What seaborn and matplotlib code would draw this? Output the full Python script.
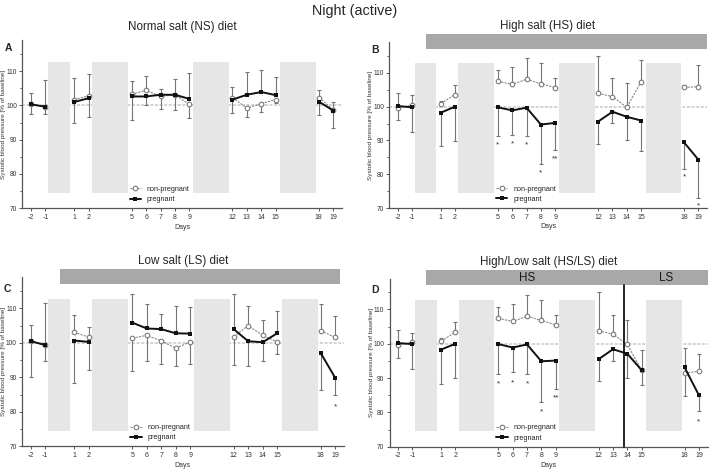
import numpy as np
import pandas as pd
import matplotlib
matplotlib.use("Agg")
import matplotlib.pyplot as plt
from matplotlib.ticker import MultipleLocator
import seaborn as sns

sns.set_theme(style="ticks")
plt.rcParams['font.family'] = ['Liberation Sans', 'DejaVu Sans']

# --- data ---
days = [-2, -1, 1, 2, 5, 6, 7, 8, 9, 12, 13, 14, 15, 18, 19]
segments = [0, 0, 1, 1, 2, 2, 2, 2, 2, 3, 3, 3, 3, 4, 4]

# A: normal salt
a_preg = [100.3, 99.6, 101.0, 102.1, 102.6, 102.6, 103.1, 103.1, 101.9, 101.7, 103.1, 103.9, 103.0, 101.1, 98.5]
a_nonpreg = [100.3, 99.6, 101.7, 102.8, 103.2, 104.4, 102.6, 103.1, 100.3, 102.3, 99.2, 100.5, 101.7, 102.3, 98.8]
a_err_top = [103.5, 107.3, 107.9, 109.1, 107.1, 108.6, 104.9, 107.7, 109.4, 105.4, 109.8, 110.2, 108.2, 104.5, 100.9]
a_err_bot = [97.4, 97.4, 94.8, 96.7, 95.6, 100.0, 98.9, 98.8, 96.4, 97.7, 96.7, 98.2, 100.7, 97.2, 93.3]

# B: high salt
b_preg = [100.2, 99.8, 98.2, 100.0, 99.8, 98.9, 99.7, 94.7, 95.2, 95.6, 98.5, 97.0, 95.9, 89.4, 84.3]
b_nonpreg = [99.7, 100.4, 100.9, 103.6, 107.5, 106.6, 108.1, 106.8, 105.6, 103.9, 103.0, 99.8, 107.4, 105.7, 105.9]
b_err_top = [104.1, 103.4, 101.7, 106.3, 110.9, 111.8, 114.3, 112.8, 108.6, 115.1, 108.4, 106.9, 113.7, 106.4, 112.3]
b_err_bot = [96.2, 92.6, 88.3, 89.7, 91.3, 91.6, 91.3, 83.0, 87.1, 89.0, 95.1, 90.1, 87.0, 81.6, 73.1]
b_star_days = [5, 6, 7, 8, 9, 18, 19]
b_star_text = ['*', '*', '*', '*', '**', '*', '*']
b_star_y = [89.8, 90.2, 89.8, 81.7, 85.7, 80.3, 71.8]

# C: low salt
c_preg = [100.5, 99.4, 100.7, 100.3, 105.9, 104.2, 104.0, 102.8, 102.7, 104.0, 100.5, 100.2, 102.8, 97.1, 89.9]
c_nonpreg = [100.5, 99.4, 103.1, 101.7, 101.4, 102.2, 100.6, 98.5, 100.3, 101.8, 105.0, 102.2, 100.3, 103.6, 101.6]
c_err_top = [105.1, 111.5, 108.2, 104.5, 114.1, 111.2, 108.3, 110.6, 110.3, 114.1, 110.6, 106.7, 109.2, 111.3, 107.9]
c_err_bot = [90.0, 94.7, 88.3, 92.1, 91.9, 94.9, 93.8, 93.2, 93.9, 93.5, 93.3, 94.7, 96.7, 86.3, 84.8]
c_star_days = [19]
c_star_text = ['*']
c_star_y = [82.8]

# D: high/low salt
d_preg = [100.2, 99.9, 98.3, 100.0, 99.9, 98.9, 99.8, 94.9, 95.1, 95.5, 98.4, 97.1, 92.3, 93.1, 85.0]
d_nonpreg = [99.7, 100.4, 100.7, 103.4, 107.4, 106.5, 108.0, 106.8, 105.5, 103.8, 102.8, 99.8, 92.3, 91.4, 92.0]
d_err_top = [104.0, 103.2, 101.6, 106.2, 110.7, 111.7, 114.3, 112.7, 108.5, 115.0, 108.4, 106.8, 98.1, 98.9, 97.1]
d_err_bot = [95.9, 92.7, 88.2, 89.9, 91.3, 91.7, 91.3, 83.1, 86.9, 89.1, 95.1, 90.1, 87.9, 84.8, 80.5]
d_star_days = [5, 6, 7, 8, 9, 19]
d_star_text = ['*', '*', '*', '*', '**', '*']
d_star_y = [89.4, 89.9, 89.4, 81.4, 85.5, 78.3]
d_switch_day = 13.77

# gray boxes (days without measurement) and diet bars
gap_boxes = [(-0.8, 0.7), (2.22, 4.72), (9.26, 11.78), (15.32, 17.8)]
titles = ['Normal salt (NS) diet', 'High salt (HS) diet', 'Low salt (LS) diet', 'High/Low salt (HS/LS) diet']
letters = ['A', 'B', 'C', 'D']
diet_bars = [None, (-0.05, 19.6), (0.0, 19.3), (-0.05, 19.6)]

panels = [
    (a_preg, a_nonpreg, a_err_top, a_err_bot, [], [], []),
    (b_preg, b_nonpreg, b_err_top, b_err_bot, b_star_days, b_star_text, b_star_y),
    (c_preg, c_nonpreg, c_err_top, c_err_bot, c_star_days, c_star_text, c_star_y),
    (d_preg, d_nonpreg, d_err_top, d_err_bot, d_star_days, d_star_text, d_star_y),
]

positions = [
    [0.0316, 0.5561, 0.4505, 0.358],
    [0.5488, 0.5565, 0.4484, 0.3529],
    [0.031, 0.048, 0.454, 0.3606],
    [0.5494, 0.0475, 0.4485, 0.3586],
]

fig = plt.figure(figsize=(7.09, 4.69), dpi=100)
fig.text(0.5, 0.976, 'Night (active)', ha='center', va='center', fontsize=10.4)

box_color = '#e6e6e6'
bar_color = '#a8a8a8'
err_color = '#757575'
spine_color = '#555555'

for i, (preg, nonpreg, top, bot, sdays, stext, sy) in enumerate(panels):
    ax = fig.add_axes(positions[i])
    df = pd.DataFrame({
        'day': days * 2,
        'value': preg + nonpreg,
        'group': ['pregnant'] * len(days) + ['non-pregnant'] * len(days),
        'seg': segments * 2,
    })

    ax.axhline(100, color='#c8c8c8', lw=1.1, ls=(0, (2, 1)), zorder=0.5)
    for x0, x1 in gap_boxes:
        ax.axvspan(x0, x1, ymin=(74.5 - 70) / 49, ymax=(112.8 - 70) / 49,
                   color=box_color, lw=0, zorder=1)

    # one-sided error bars
    hi = np.maximum(preg, nonpreg)
    lo = np.minimum(preg, nonpreg)
    ax.vlines(days, hi, top, color=err_color, lw=0.8, zorder=2)
    ax.vlines(days, bot, lo, color=err_color, lw=0.8, zorder=2)
    ax.scatter(days, top, marker='_', s=10, color=err_color, linewidths=0.8, zorder=2)
    ax.scatter(days, bot, marker='_', s=10, color=err_color, linewidths=0.8, zorder=2)

    sns.lineplot(data=df[df.group == 'non-pregnant'], x='day', y='value', units='seg',
                 estimator=None, color='#8a8a8a', lw=0.8, ls=(0, (2, 1)),
                 marker='o', markersize=3.3, markerfacecolor='white',
                 markeredgecolor='#7a7a7a', markeredgewidth=0.8,
                 label='non-pregnant', ax=ax, zorder=3)
    sns.lineplot(data=df[df.group == 'pregnant'], x='day', y='value', units='seg',
                 estimator=None, color='#111111', lw=1.4,
                 marker='s', markersize=2.8, markeredgewidth=0,
                 label='pregnant', ax=ax, zorder=4)

    for d, t, y in zip(sdays, stext, sy):
        ax.text(d, y - 1.2, t, ha='center', va='center', fontsize=6, color='#333333')

    ax.set_xlim(-2.6, 19.6)
    ax.set_ylim(70, 119)
    ax.set_xticks(days)
    ax.set_xticklabels([str(d) for d in days])
    ax.set_yticks([70, 80, 90, 100, 110])
    ax.yaxis.set_minor_locator(MultipleLocator(5))
    ax.tick_params(axis='both', which='both', labelsize=5, length=2.5, width=0.7,
                   color=spine_color, pad=1.5, labelcolor='#333333')
    ax.tick_params(axis='y', which='major', labelsize=4.8, pad=1.2)
    ax.tick_params(axis='y', which='minor', length=1.8)
    for side in ['top', 'right']:
        ax.spines[side].set_visible(False)
    for side in ['left', 'bottom']:
        ax.spines[side].set_color(spine_color)
        ax.spines[side].set_linewidth(0.9)
    ax.set_xlabel('Days', fontsize=5, labelpad=2, color='#333333')
    ax.set_ylabel('Systolic blood pressure [% of baseline]', fontsize=4.6, color='#333333')
    ax.yaxis.set_label_coords(-0.05, 0.5)
    ax.set_title(titles[i], fontsize=8.4, pad=7.5 if diet_bars[i] is None else 9.5)
    ax.text(-0.045, 0.955 if i < 2 else 0.93, letters[i], transform=ax.transAxes,
            ha='center', va='center', fontsize=7.5, fontweight='bold')

    if diet_bars[i] is not None:
        x0, x1 = diet_bars[i]
        ax.fill_between([x0, x1], 117.0, 121.5, color=bar_color, lw=0, clip_on=False, zorder=1)
    if i == 3:
        ax.text(7.0, 119.25, 'HS', ha='center', va='center', fontsize=8.4, color='#1a1a1a')
        ax.text(16.7, 119.25, 'LS', ha='center', va='center', fontsize=8.4, color='#1a1a1a')
        ax.plot([d_switch_day, d_switch_day], [70, 117], color='#111111', lw=1.3,
                clip_on=False, zorder=5)

    # one legend entry per series (lineplot draws one line per segment)
    handles, labels = ax.get_legend_handles_labels()
    uniq = dict(zip(labels, handles))
    ax.legend([uniq['non-pregnant'], uniq['pregnant']], ['non-pregnant', 'pregnant'],
              loc='lower left', bbox_to_anchor=(0.32, 0.0), frameon=False,
              fontsize=5.2, handlelength=1.6, labelspacing=0.45, handletextpad=0.8,
              borderaxespad=0.3)

fig.savefig('out.png', dpi=100)
